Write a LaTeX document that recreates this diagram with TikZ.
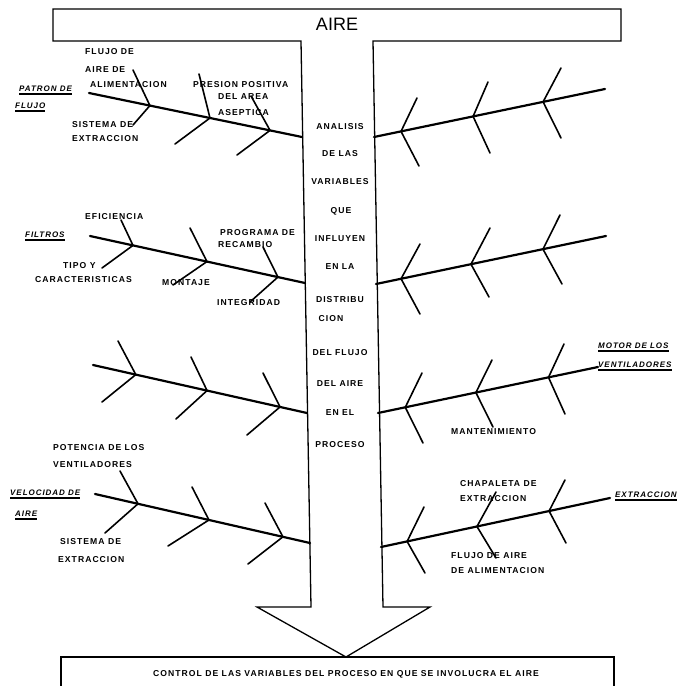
\documentclass[tikz,border=0pt]{standalone}
\usepackage{fontspec}
\setmainfont{Liberation Sans}
\newfontfamily\lblfont[LetterSpace=12]{Liberation Sans}
\usetikzlibrary{calc}

\tikzset{
  frame/.style={line width=1.3pt, line join=miter},
  spine/.style={line width=2.2pt, line cap=round},
  rib/.style={line width=1.6pt, line cap=round, line join=round},
  uline/.style={line width=1.3pt},
  lbl/.style={inner sep=0pt, anchor=west, font=\lblfont\bfseries\fontsize{8.6}{9}\selectfont},
  ctr/.style={lbl, anchor=center},
  head/.style={lbl, font=\lblfont\bfseries\itshape\fontsize{8}{9}\selectfont},
}

\begin{document}
\begin{tikzpicture}[x=1pt, y=-1pt]
\useasboundingbox (0,0) rectangle (686,686);

% T-shaped channel: title bar, stem and arrow head
\draw[frame] (53,9) -- (621,9) -- (621,41) -- (373,41) -- (383,607) -- (430,607)
  -- (346,657) -- (257,607) -- (311,607) -- (301,41) -- (53,41) -- cycle;
\node[font=\fontsize{18}{20}\selectfont, inner sep=0pt] (title) at (337,24) {AIRE};

% result box at the foot
\draw[frame] (61,686) -- (61,657) -- (614,657) -- (614,686);
\node[ctr] (result) at (346,674) {CONTROL DE LAS VARIABLES DEL PROCESO EN QUE SE INVOLUCRA EL AIRE};

% text inside the stem
\node[ctr] (c1) at (340,127) {ANALISIS};
\node[ctr] (c2) at (340,154) {DE LAS};
\node[ctr] (c3) at (340,182) {VARIABLES};
\node[ctr] (c4) at (341,211) {QUE};
\node[ctr] (c5) at (340,239) {INFLUYEN};
\node[ctr] (c6) at (340,267) {EN LA};
\node[ctr] (c7) at (340,300) {DISTRIBU};
\node[ctr] (c8) at (331,319) {CION};
\node[ctr] (c9) at (340,353) {DEL FLUJO};
\node[ctr] (c10) at (340,384) {DEL AIRE};
\node[ctr] (c11) at (340,413) {EN EL};
\node[ctr] (c12) at (340,445) {PROCESO};

% ---------- left bone 1: patron de flujo ----------
\coordinate (L1a) at (89,93); \coordinate (L1b) at (302,137);
\draw[spine] (L1a) -- (L1b);
\foreach \i/\t/\ax/\ay/\bx/\by in {1/0.286/133/70/133/125, 2/0.568/199/74/175/144, 3/0.85/251/96/237/155}{
  \coordinate (L1j\i) at ($(L1a)!\t!(L1b)$);
  \coordinate (L1u\i) at (\ax,\ay);
  \coordinate (L1d\i) at (\bx,\by);
  \draw[rib] (L1u\i) -- (L1j\i) -- (L1d\i);
}
\node[head] (h1a) at (19,89) {PATRON DE};
\node[head] (h1b) at (15,106) {FLUJO};
\draw[uline] ([yshift=-2pt]h1a.south west) -- ([yshift=-2pt]h1a.south east);
\draw[uline] ([yshift=-2pt]h1b.south west) -- ([yshift=-2pt]h1b.south east);
\node[lbl] (t1) at (85,52) {FLUJO DE};
\node[lbl] (t2) at (85,70) {AIRE DE};
\node[lbl] (t3) at (90,85) {ALIMENTACION};
\node[lbl] (t4) at (193,85) {PRESION POSITIVA};
\node[lbl] (t5) at (218,97) {DEL AREA};
\node[lbl] (t6) at (218,113) {ASEPTICA};
\node[lbl] (t7) at (72,125) {SISTEMA DE};
\node[lbl] (t8) at (72,139) {EXTRACCION};

% ---------- right bone 1 ----------
\coordinate (R1a) at (374,137); \coordinate (R1b) at (605,89);
\draw[spine] (R1a) -- (R1b);
\foreach \i/\t/\ax/\ay/\bx/\by in {1/0.117/417/98/419/166, 2/0.429/488/82/490/153, 3/0.732/561/68/561/138}{
  \coordinate (R1j\i) at ($(R1a)!\t!(R1b)$);
  \coordinate (R1u\i) at (\ax,\ay);
  \coordinate (R1d\i) at (\bx,\by);
  \draw[rib] (R1u\i) -- (R1j\i) -- (R1d\i);
}

% ---------- left bone 2: filtros ----------
\coordinate (L2a) at (90,236); \coordinate (L2b) at (305,283);
\draw[spine] (L2a) -- (L2b);
\foreach \i/\t/\ax/\ay/\bx/\by in {1/0.2/121/220/102/268, 2/0.544/190/228/173/285, 3/0.874/263/247/250/302}{
  \coordinate (L2j\i) at ($(L2a)!\t!(L2b)$);
  \coordinate (L2u\i) at (\ax,\ay);
  \coordinate (L2d\i) at (\bx,\by);
  \draw[rib] (L2u\i) -- (L2j\i) -- (L2d\i);
}
\node[head] (h2) at (25,235) {FILTROS};
\draw[uline] ([yshift=-2pt]h2.south west) -- ([yshift=-2pt]h2.south east);
\node[lbl] (f1) at (85,217) {EFICIENCIA};
\node[lbl] (f2) at (63,266) {TIPO Y};
\node[lbl] (f3) at (35,280) {CARACTERISTICAS};
\node[lbl] (f4) at (162,283) {MONTAJE};
\node[lbl] (f5) at (220,233) {PROGRAMA DE};
\node[lbl] (f6) at (218,245) {RECAMBIO};
\node[lbl] (f7) at (217,303) {INTEGRIDAD};

% ---------- right bone 2 ----------
\coordinate (R2a) at (376,284); \coordinate (R2b) at (606,236);
\draw[spine] (R2a) -- (R2b);
\foreach \i/\t/\ax/\ay/\bx/\by in {1/0.109/420/244/420/314, 2/0.413/490/228/489/297, 3/0.726/560/215/562/284}{
  \coordinate (R2j\i) at ($(R2a)!\t!(R2b)$);
  \coordinate (R2u\i) at (\ax,\ay);
  \coordinate (R2d\i) at (\bx,\by);
  \draw[rib] (R2u\i) -- (R2j\i) -- (R2d\i);
}

% ---------- left bone 3 ----------
\coordinate (L3a) at (93,365); \coordinate (L3b) at (307,413);
\draw[spine] (L3a) -- (L3b);
\foreach \i/\t/\ax/\ay/\bx/\by in {1/0.2/118/341/102/402, 2/0.533/191/357/176/419, 3/0.874/263/373/247/435}{
  \coordinate (L3j\i) at ($(L3a)!\t!(L3b)$);
  \coordinate (L3u\i) at (\ax,\ay);
  \coordinate (L3d\i) at (\bx,\by);
  \draw[rib] (L3u\i) -- (L3j\i) -- (L3d\i);
}

% ---------- right bone 3: motor de los ventiladores ----------
\coordinate (R3a) at (378,413); \coordinate (R3b) at (598,367);
\draw[spine] (R3a) -- (R3b);
\foreach \i/\t/\ax/\ay/\bx/\by in {1/0.124/422/373/423/443, 2/0.445/492/360/493/427, 3/0.775/564/344/565/414}{
  \coordinate (R3j\i) at ($(R3a)!\t!(R3b)$);
  \coordinate (R3u\i) at (\ax,\ay);
  \coordinate (R3d\i) at (\bx,\by);
  \draw[rib] (R3u\i) -- (R3j\i) -- (R3d\i);
}
\node[head] (h3a) at (598,346) {MOTOR DE LOS};
\node[head] (h3b) at (598,365) {VENTILADORES};
\draw[uline] ([yshift=-2pt]h3a.south west) -- ([yshift=-2pt]h3a.south east);
\draw[uline] ([yshift=-2pt]h3b.south west) -- ([yshift=-2pt]h3b.south east);
\node[lbl] (m1) at (451,432) {MANTENIMIENTO};

% ---------- left bone 4: velocidad de aire ----------
\coordinate (L4a) at (95,494); \coordinate (L4b) at (310,543);
\draw[spine] (L4a) -- (L4b);
\foreach \i/\t/\ax/\ay/\bx/\by in {1/0.2/120/471/105/533, 2/0.53/192/487/168/546, 3/0.874/265/503/248/564}{
  \coordinate (L4j\i) at ($(L4a)!\t!(L4b)$);
  \coordinate (L4u\i) at (\ax,\ay);
  \coordinate (L4d\i) at (\bx,\by);
  \draw[rib] (L4u\i) -- (L4j\i) -- (L4d\i);
}
\node[head] (h4a) at (10,493) {VELOCIDAD DE};
\node[head] (h4b) at (15,514) {AIRE};
\draw[uline] ([yshift=-2pt]h4a.south west) -- ([yshift=-2pt]h4a.south east);
\draw[uline] ([yshift=-2pt]h4b.south west) -- ([yshift=-2pt]h4b.south east);
\node[lbl] (v1) at (53,448) {POTENCIA DE LOS};
\node[lbl] (v2) at (53,465) {VENTILADORES};
\node[lbl] (v3) at (60,542) {SISTEMA DE};
\node[lbl] (v4) at (58,560) {EXTRACCION};

% ---------- right bone 4: extraccion ----------
\coordinate (R4a) at (381,547); \coordinate (R4b) at (610,498);
\draw[spine] (R4a) -- (R4b);
\foreach \i/\t/\ax/\ay/\bx/\by in {1/0.114/424/507/425/573, 2/0.419/496/492/496/558, 3/0.734/565/480/566/543}{
  \coordinate (R4j\i) at ($(R4a)!\t!(R4b)$);
  \coordinate (R4u\i) at (\ax,\ay);
  \coordinate (R4d\i) at (\bx,\by);
  \draw[rib] (R4u\i) -- (R4j\i) -- (R4d\i);
}
\node[head] (h5) at (615,495) {EXTRACCION};
\draw[uline] ([yshift=-2pt]h5.south west) -- ([yshift=-2pt]h5.south east);
\node[lbl] (e1) at (460,484) {CHAPALETA DE};
\node[lbl] (e2) at (460,499) {EXTRACCION};
\node[lbl] (e3) at (451,556) {FLUJO DE AIRE};
\node[lbl] (e4) at (451,571) {DE ALIMENTACION};

\end{tikzpicture}
\end{document}
